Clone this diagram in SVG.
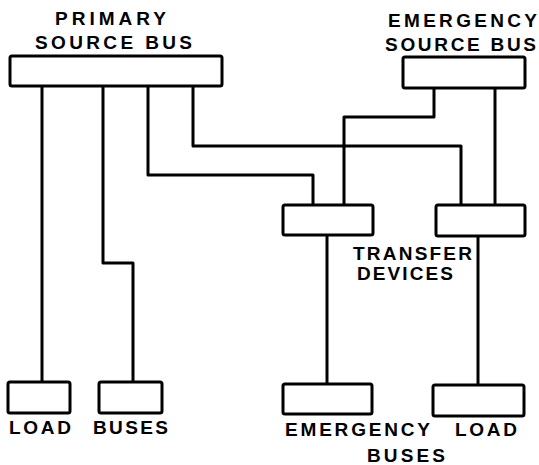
<svg xmlns="http://www.w3.org/2000/svg" width="539" height="465" viewBox="0 0 539 465">
<style>
.bus{fill:#fff;stroke:#000;stroke-width:3;}
.wire{fill:none;stroke:#000;stroke-width:3;stroke-linejoin:round;}
text{font-family:"Liberation Sans",Arial,sans-serif;font-size:19px;font-weight:bold;fill:#000;}
</style>
<rect width="539" height="465" fill="#fff"/>
<g id="connectors">
<path class="wire" d="M42,86 V382"/>
<path class="wire" d="M103,86 V263 H133 V382"/>
<path class="wire" d="M148,86 V175 H313 V205"/>
<path class="wire" d="M193,86 V146 H461 V205"/>
<path class="wire" d="M434,88 V117 H344 V205"/>
<path class="wire" d="M495,88 V205"/>
<path class="wire" d="M327,235 V384"/>
<path class="wire" d="M478,236 V385"/>
</g>
<g id="primary-source-bus">
<rect class="bus" x="10" y="56" width="212" height="30" rx="2"/>
<text x="55" y="25" textLength="111" lengthAdjust="spacing">PRIMARY</text>
<text x="35" y="49" textLength="157" lengthAdjust="spacing">SOURCE BUS</text>
</g>
<g id="emergency-source-bus">
<rect class="bus" x="403" y="57" width="122" height="31" rx="2"/>
<text x="388" y="27" textLength="149" lengthAdjust="spacing">EMERGENCY</text>
<text x="385" y="51" textLength="151" lengthAdjust="spacing">SOURCE BUS</text>
</g>
<g id="transfer-device-1">
<rect class="bus" x="283" y="205" width="90" height="30" rx="2"/>
</g>
<g id="transfer-device-2">
<rect class="bus" x="436" y="205" width="89" height="31" rx="2"/>
</g>
<g id="transfer-devices-label">
<text x="353" y="260" textLength="119" lengthAdjust="spacing">TRANSFER</text>
<text x="357" y="280" textLength="96" lengthAdjust="spacing">DEVICES</text>
</g>
<g id="load-bus-1">
<rect class="bus" x="8" y="382" width="62" height="31" rx="2"/>
<text x="9" y="434" textLength="62" lengthAdjust="spacing">LOAD</text>
</g>
<g id="load-bus-2">
<rect class="bus" x="99" y="382" width="63" height="31" rx="2"/>
<text x="93" y="434" textLength="75" lengthAdjust="spacing">BUSES</text>
</g>
<g id="emergency-load-bus-1">
<rect class="bus" x="283" y="384" width="89" height="30" rx="2"/>
<text x="285" y="436" textLength="145" lengthAdjust="spacing">EMERGENCY</text>
<text x="367" y="462" textLength="78" lengthAdjust="spacing">BUSES</text>
</g>
<g id="emergency-load-bus-2">
<rect class="bus" x="433" y="385" width="91" height="31" rx="2"/>
<text x="455" y="436" textLength="62" lengthAdjust="spacing">LOAD</text>
</g>
</svg>
